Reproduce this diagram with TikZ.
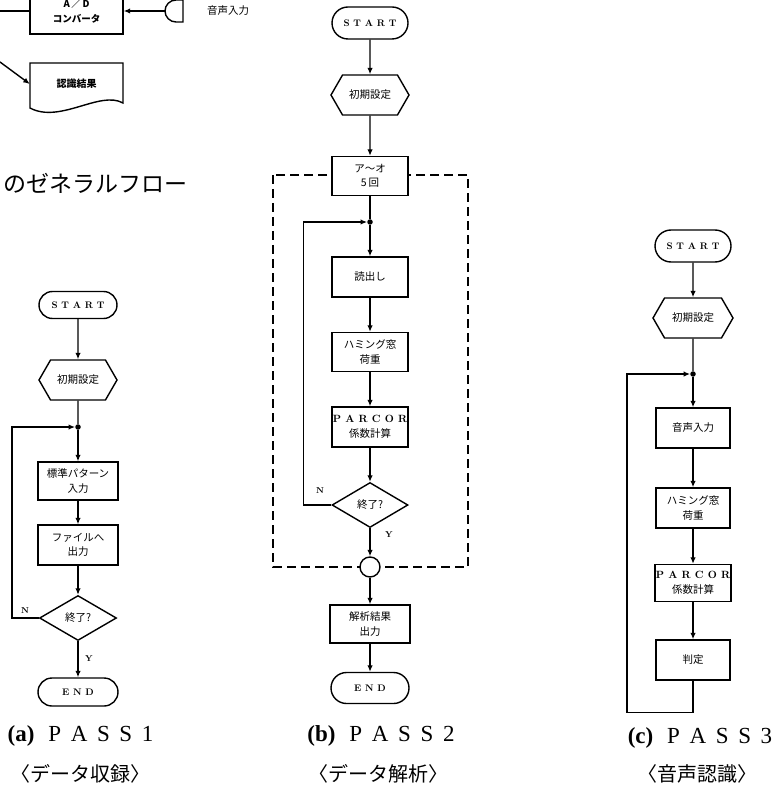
\documentclass[tikz,border=0pt]{standalone}
\usepackage{fontspec}
\newfontfamily\jp{Noto Sans CJK JP}
\newfontfamily\capfont{Liberation Serif}
\usetikzlibrary{shapes.geometric,shapes.misc,shapes.symbols,arrows.meta}
\newcommand\lsp{\hspace{0.42em}}
\newcommand\ssp{\hspace{0.4em}}
\begin{document}
\begin{tikzpicture}[x=1pt,y=-1pt,
  ln/.style={line width=1.4pt},
  arr/.style={ln,-{Latex[length=6.5pt,width=5.5pt]}},
  box/.style={draw,fill=white,line width=1.4pt,minimum width=76pt,minimum height=40pt,inner sep=1pt,align=center,font=\jp\fontsize{10.5}{14.5}\selectfont},
  term/.style={rounded rectangle,draw,fill=white,line width=1.4pt,minimum width=78pt,minimum height=32pt,inner sep=1pt,font=\fontsize{9.5}{10}\selectfont\bfseries},
  prep/.style={signal,signal to=east and west,signal pointer angle=120,draw,fill=white,line width=1.4pt,minimum width=78pt,minimum height=40pt,inner sep=1pt,font=\jp\fontsize{10.5}{12}\selectfont},
  dec/.style={diamond,draw,fill=white,line width=1.4pt,minimum width=76pt,minimum height=45pt,inner sep=0pt,font=\jp\fontsize{10.5}{12}\selectfont},
  jdot/.style={circle,fill,inner sep=0pt,minimum size=5.5pt},
  lab/.style={font=\fontsize{8.5}{9}\selectfont\bfseries},
  captxt/.style={font=\capfont\fontsize{23}{25}\selectfont},
  jcap/.style={font=\jp\fontsize{20}{22}\selectfont},
]
\useasboundingbox (0,0) rectangle (774,799);
\clip (0,0) rectangle (774,799);

% ---------- general flow (top-left, partial) ----------
\node[box,minimum width=93pt,minimum height=46pt,font=\jp\bfseries\fontsize{9.5}{15}\selectfont] (ad) at (76.5,11) {A\,／\,D\\コンバータ};
\coordinate (adout) at (0,11);
\draw[ln] (ad.west) -- (adout);
\draw[ln] (183,0) -- (176,0) arc[start angle=270,end angle=90,radius=11] -- (183,22) -- cycle;
\coordinate (mic) at (165,11);
\draw[arr] (mic) -- (ad.east);
\node[font=\jp\fontsize{10.5}{12}\selectfont] (voice) at (228,11) {音声入力};

\draw[ln,fill=white] (30,63) -- (123,63) -- (123,103) .. controls (100,90) and (60,124) .. (30,108) -- cycle;
\node[minimum width=93pt,minimum height=44pt,font=\jp\bfseries\fontsize{10}{12}\selectfont] (res) at (76.5,84) {認識結果};
\coordinate (resin) at (0,62);
\draw[arr] (resin) -- (res.west);

\node[anchor=west,font=\jp\fontsize{23}{25}\selectfont] (gf) at (0,183) {のゼネラルフロー};

% ---------- (a) PASS 1 ----------
\node[term,minimum width=80pt,minimum height=27pt] (sa) at (78,305) {S\ssp T\ssp A\ssp R\ssp T};
\node[prep] (pa) at (78,380) {初期設定};
\node[jdot] (ja) at (78,427) {};
\node[box,minimum width=80pt,minimum height=38pt] (a1) at (78,481) {標準パターン\\入力};
\node[box,minimum width=80pt,minimum height=40pt] (a2) at (78,545) {ファイルへ\\出力};
\node[dec,minimum width=77pt] (da) at (78,618) {終了?};
\node[term,minimum width=82pt,minimum height=28pt] (ea) at (78,692) {E\ssp N\ssp D};
\draw[arr] (sa) -- (pa);
\draw[ln] (pa) -- (ja);
\draw[arr] (ja) -- (a1);
\draw[arr] (a1) -- (a2);
\draw[arr] (a2) -- (da);
\draw[arr] (da) -- (ea);
\draw[arr] (da.west) -- ++(-27,0) |- (ja);
\node[lab] (na) at (25,611) {N};
\node[lab] (ya) at (89,659) {Y};

% ---------- (b) PASS 2 ----------
\draw[ln,dash pattern=on 9pt off 5pt] (273,175) rectangle (468,567);
\node[term] (sb) at (370,23) {S\ssp T\ssp A\ssp R\ssp T};
\node[prep] (pb) at (370,95) {初期設定};
\node[box,minimum height=39pt] (b0) at (370,176) {ア〜オ\\5\,回};
\node[jdot] (jb) at (370,222) {};
\node[box] (b1) at (370,277) {読出し};
\node[box,minimum height=39pt] (b2) at (370,352) {ハミング窓\\荷重};
\node[box] (b3) at (370,427) {\fontspec{Latin Modern Roman}\bfseries P\ssp A\ssp R\ssp C\ssp O\ssp R\\係数計算};
\node[dec] (db) at (370,505) {終了?};
\node[circle,draw,fill=white,line width=1.4pt,minimum size=20pt,inner sep=0pt] (cb) at (370,567) {};
\node[box,minimum width=80pt,minimum height=38pt] (b4) at (370,624) {解析結果\\出力};
\node[term,minimum width=80pt,minimum height=31pt] (eb) at (370,688) {E\ssp N\ssp D};
\draw[arr] (sb) -- (pb);
\draw[arr] (pb) -- (b0);
\draw[ln] (b0) -- (jb);
\draw[arr] (jb) -- (b1);
\draw[arr] (b1) -- (b2);
\draw[arr] (b2) -- (b3);
\draw[arr] (b3) -- (db);
\draw[arr] (db) -- (cb);
\draw[arr] (cb) -- (b4);
\draw[arr] (b4) -- (eb);
\draw[arr] (db.west) -- ++(-28,0) |- (jb);
\node[lab] (nb) at (320,491) {N};
\node[lab] (yb) at (389,535) {Y};

% ---------- (c) PASS 3 ----------
\node[term] (sc) at (693,246) {S\ssp T\ssp A\ssp R\ssp T};
\node[prep,minimum width=80pt] (pc) at (693,318) {初期設定};
\node[jdot] (jc) at (693,374) {};
\node[box,minimum width=74pt] (c1) at (693,428) {音声入力};
\node[box,minimum width=74pt] (c2) at (693,508) {ハミング窓\\荷重};
\node[box,minimum width=74pt,minimum height=37pt] (c3) at (693,583) {\fontspec{Latin Modern Roman}\bfseries P\ssp A\ssp R\ssp C\ssp O\ssp R\\係数計算};
\node[box,minimum width=74pt] (c4) at (693,660) {判定};
\draw[arr] (sc) -- (pc);
\draw[ln] (pc) -- (jc);
\draw[arr] (jc) -- (c1);
\draw[arr] (c1) -- (c2);
\draw[arr] (c2) -- (c3);
\draw[arr] (c3) -- (c4);
\draw[arr] (c4.south) -- ++(0,32) -- ++(-66,0) |- (jc);

% ---------- captions ----------
\node[captxt,anchor=east] (capa) at (157,736) {\textbf{(a)}\hspace{0.6em}P\lsp A\lsp S\lsp S\lsp 1};
\node[jcap] (jcapa) at (80,774) {〈データ収録〉};
\node[captxt] (capb) at (381,736) {\textbf{(b)}\hspace{0.6em}P\lsp A\lsp S\lsp S\lsp 2};
\node[jcap] (jcapb) at (378,774) {〈データ解析〉};
\node[captxt] (capc) at (700,738) {\textbf{(c)}\hspace{0.6em}P\lsp A\lsp S\lsp S\lsp 3};
\node[jcap] (jcapc) at (697,774) {〈音声認識〉};
\end{tikzpicture}
\end{document}
